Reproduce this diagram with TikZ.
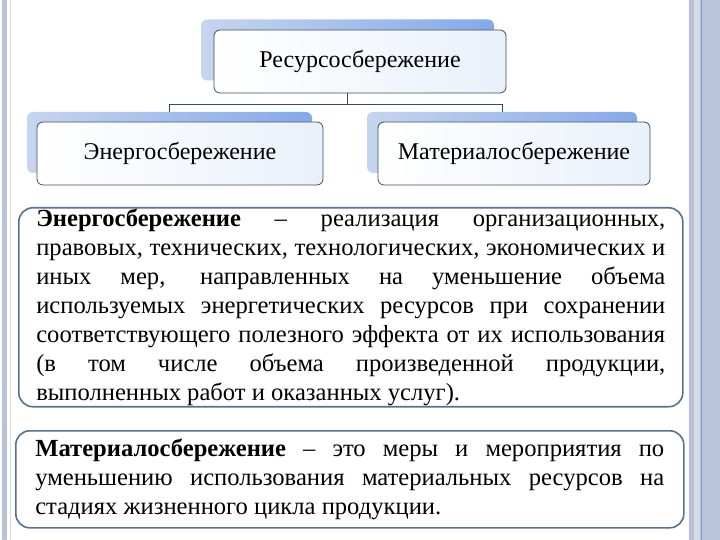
\documentclass[tikz,border=0pt]{standalone}
\usepackage{fontspec}
\setmainfont{Liberation Serif}
\usetikzlibrary{positioning}

\definecolor{backl}{HTML}{C6D5EF}
\definecolor{backr}{HTML}{84A9EA}
\definecolor{boxr}{HTML}{EAF0FA}
\definecolor{boxline}{HTML}{3C4D60}
\definecolor{defline}{HTML}{56728F}
\definecolor{wire}{HTML}{3E4A56}
\definecolor{framegrey}{HTML}{B8C2D6}
\definecolor{framelite}{HTML}{D6DCE8}
\definecolor{framefill}{HTML}{B9C5DD}
\definecolor{frameline}{HTML}{7E9BD0}

\hyphenpenalty=10000
\exhyphenpenalty=10000
\tolerance=9999

\begin{document}
\begin{tikzpicture}[x=1pt,y=-1pt,on grid,
  back/.style={minimum height=61pt,rounded corners=6pt,left color=backl,right color=backr},
  box/.style={draw=boxline,line width=0.8pt,rounded corners=6pt,minimum height=63pt,
    left color=white,right color=boxr,font=\fontsize{24}{29}\selectfont},
  defbox/.style={draw=defline,line width=1.6pt,rounded corners=14pt,fill=white,
    text width=629pt,align=justify,anchor=north west,font=\fontsize{24.6}{29}\selectfont},
  wire/.style={draw=wire,line width=1pt}]
\useasboundingbox (0,0) rectangle (720,540);

% slide frame
\fill[framegrey] (2,0) rectangle (7,540);
\draw[framelite] (10,0) -- (10,540);
\fill[framefill] (689,0) rectangle (720,540);
\fill[framegrey] (689,0) rectangle (694,540);
\fill[framelite] (694,0) rectangle (700,540);
\draw[frameline,line width=1.5pt] (701.5,0) -- (701.5,540);

% blue bars behind the boxes
\node[back,minimum width=293pt] (res_b) at (347.5,50) {};
\node[back,minimum width=285pt] (ener_b) [below left=92.5pt and 178pt of res_b] {};
\node[back,minimum width=270pt] (mat_b) [below right=92.5pt and 154.5pt of res_b] {};

\draw[wire] (res_b.south) -- ++(0,24) coordinate (fork) -| (ener_b.north);
\draw[wire] (fork) -| (mat_b.north);

\node[box,minimum width=292pt] (res) [below right=11.5pt and 12.5pt of res_b] {Ресурсосбережение};
\node[box,minimum width=286pt] (ener) [below right=11pt and 10.5pt of ener_b] {Энергосбережение};
\node[box,minimum width=272pt] (mat) [below right=11pt and 12pt of mat_b] {Материалосбережение};

% definitions
\node[defbox,inner xsep=17.5pt,inner ysep=1pt,minimum height=198pt] (ener_def) at (18,207)
  {\textbf{Энергосбережение} – реализация организационных,\linebreak
   правовых, технических, технологических, экономических и\linebreak
   иных мер, направленных на уменьшение объема\linebreak
   используемых энергетических ресурсов при сохранении\linebreak
   соответствующего полезного эффекта от их использования\linebreak
   (в том числе объема произведенной продукции,\linebreak
   выполненных работ и оказанных услуг).};
\node[defbox,inner xsep=19.5pt,minimum height=97pt] (mat_def) at (15,430)
  {\textbf{Материалосбережение} – это меры и мероприятия по\linebreak
   уменьшению использования материальных ресурсов на\linebreak
   стадиях жизненного цикла продукции.};
\end{tikzpicture}
\end{document}
